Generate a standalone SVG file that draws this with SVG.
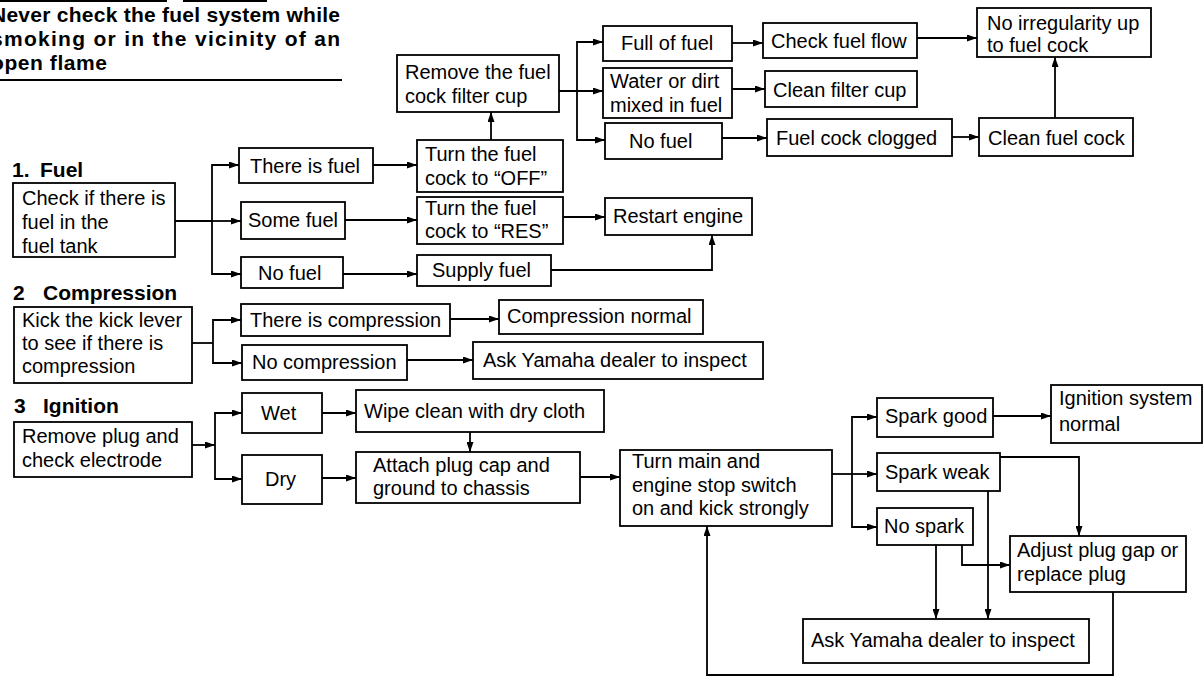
<svg xmlns="http://www.w3.org/2000/svg" width="1204" height="680" viewBox="0 0 1204 680">
<defs>
<marker id="ah" markerUnits="userSpaceOnUse" markerWidth="10" markerHeight="7" refX="10" refY="3.5" orient="auto">
<path d="M0,0 L10,3.5 L0,7 z" fill="#000"/>
</marker>
<style>
.box{fill:#fff;stroke:#000;stroke-width:1.8}
.t{font-family:"Liberation Sans",Arial,Helvetica,sans-serif;font-size:20px;fill:#000}
.h{font-family:"Liberation Sans",Arial,Helvetica,sans-serif;font-size:21px;font-weight:bold;fill:#000}
.w{font-family:"Liberation Sans",Arial,Helvetica,sans-serif;font-size:21px;font-weight:bold;fill:#000}
.c{fill:none;stroke:#000;stroke-width:1.8}
.a{fill:none;stroke:#000;stroke-width:1.8;marker-end:url(#ah)}
.r{stroke:#000;stroke-width:2}
</style>
</defs>
<rect width="1204" height="680" fill="#fff"/>

<g id="warning">
<line class="r" x1="0" y1="1" x2="167" y2="1"/>
<line class="r" x1="183" y1="1" x2="267" y2="1"/>
<text class="w" x="-9" y="22" textLength="349" lengthAdjust="spacing">Never check the fuel system while</text>
<text class="w" x="-9" y="46" textLength="349" lengthAdjust="spacing">smoking or in the vicinity of an</text>
<text class="w" x="-9" y="70" textLength="116" lengthAdjust="spacing">open flame</text>
<line class="r" x1="0" y1="80" x2="342" y2="80"/>
</g>

<g id="headings">
<text class="h" x="12" y="177">1.</text><text class="h" x="40" y="177">Fuel</text>
<text class="h" x="13" y="300">2</text><text class="h" x="43" y="300">Compression</text>
<text class="h" x="14" y="413">3</text><text class="h" x="43" y="413">Ignition</text>
</g>

<g id="connectors">
<path class="c" d="M175,221 H212"/>
<path class="a" d="M212,221 H241"/>
<path class="a" d="M212,221 V165 H239"/>
<path class="a" d="M212,221 V274 H241"/>
<path class="a" d="M373,165 H417"/>
<path class="a" d="M345,220 H417"/>
<path class="a" d="M343,274 H417"/>
<path class="a" d="M491,140 V112"/>
<path class="a" d="M559,91 H603"/>
<path class="a" d="M577,91 V42 H603"/>
<path class="a" d="M577,91 V140 H605"/>
<path class="a" d="M732,43 H763"/>
<path class="a" d="M732,89 H765"/>
<path class="a" d="M722,138 H767"/>
<path class="a" d="M917,38 H977"/>
<path class="a" d="M952,137 H979"/>
<path class="a" d="M1055,118 V57"/>
<path class="a" d="M563,217 H605"/>
<path class="a" d="M551,270 H712 V235"/>
<path class="c" d="M192,343 H213"/>
<path class="a" d="M213,343 V320 H241"/>
<path class="a" d="M213,343 V363 H242"/>
<path class="a" d="M450,319 H499"/>
<path class="a" d="M407,360 H473"/>
<path class="a" d="M192,445 H215"/>
<path class="a" d="M215,445 V413 H242"/>
<path class="a" d="M215,445 V479 H242"/>
<path class="a" d="M322,413 H356"/>
<path class="a" d="M470,432 V452"/>
<path class="a" d="M322,478 H356"/>
<path class="a" d="M580,477 H620"/>
<path class="c" d="M832,474 H852"/>
<path class="a" d="M852,474 H877"/>
<path class="a" d="M852,474 V417 H877"/>
<path class="a" d="M852,474 V527 H877"/>
<path class="a" d="M993,416 H1051"/>
<path class="a" d="M1000,457 H1079 V536"/>
<path class="a" d="M962,545 V565 H1010"/>
<path class="a" d="M936,545 V619"/>
<path class="a" d="M988,491 V619"/>
<path class="a" d="M1113,592 V675 H707 V526"/>
</g>

<g id="n-check-fuel"><rect class="box" x="13" y="183" width="162" height="74"/>
<text class="t" x="22" y="205">Check if there is</text><text class="t" x="22" y="229">fuel in the</text><text class="t" x="22" y="253">fuel tank</text></g>
<g id="n-there-is-fuel"><rect class="box" x="239" y="148" width="134" height="35"/><text class="t" x="250" y="173">There is fuel</text></g>
<g id="n-some-fuel"><rect class="box" x="241" y="202" width="104" height="37"/><text class="t" x="248" y="227">Some fuel</text></g>
<g id="n-no-fuel-1"><rect class="box" x="241" y="257" width="102" height="31"/><text class="t" x="258" y="280">No fuel</text></g>
<g id="n-turn-off"><rect class="box" x="417" y="140" width="146" height="52"/>
<text class="t" x="425" y="161">Turn the fuel</text><text class="t" x="425" y="185">cock to “OFF”</text></g>
<g id="n-turn-res"><rect class="box" x="417" y="197" width="146" height="47"/>
<text class="t" x="425" y="215">Turn the fuel</text><text class="t" x="425" y="238">cock to “RES”</text></g>
<g id="n-supply-fuel"><rect class="box" x="417" y="255" width="134" height="31"/><text class="t" x="432" y="277">Supply fuel</text></g>
<g id="n-remove-cup"><rect class="box" x="397" y="55" width="162" height="57"/>
<text class="t" x="405" y="79">Remove the fuel</text><text class="t" x="405" y="103">cock filter cup</text></g>
<g id="n-full-of-fuel"><rect class="box" x="603" y="26" width="129" height="35"/><text class="t" x="621" y="50">Full of fuel</text></g>
<g id="n-water-dirt"><rect class="box" x="603" y="68" width="129" height="50"/>
<text class="t" x="610" y="88">Water or dirt</text><text class="t" x="610" y="112">mixed in fuel</text></g>
<g id="n-no-fuel-2"><rect class="box" x="605" y="123" width="117" height="36"/><text class="t" x="629" y="148">No fuel</text></g>
<g id="n-check-flow"><rect class="box" x="763" y="23" width="154" height="35"/><text class="t" x="771" y="48">Check fuel flow</text></g>
<g id="n-clean-cup"><rect class="box" x="765" y="71" width="152" height="36"/><text class="t" x="773" y="97">Clean filter cup</text></g>
<g id="n-clogged"><rect class="box" x="767" y="119" width="185" height="37"/><text class="t" x="776" y="145">Fuel cock clogged</text></g>
<g id="n-clean-cock"><rect class="box" x="979" y="118" width="154" height="38"/><text class="t" x="988" y="145">Clean fuel cock</text></g>
<g id="n-no-irregularity"><rect class="box" x="977" y="8" width="174" height="49"/>
<text class="t" x="987" y="30">No irregularity up</text><text class="t" x="987" y="52">to fuel cock</text></g>
<g id="n-restart"><rect class="box" x="605" y="198" width="147" height="37"/><text class="t" x="613" y="223">Restart engine</text></g>

<g id="n-kick"><rect class="box" x="14" y="307" width="178" height="76"/>
<text class="t" x="22" y="327">Kick the kick lever</text><text class="t" x="22" y="350">to see if there is</text><text class="t" x="22" y="373">compression</text></g>
<g id="n-there-is-comp"><rect class="box" x="241" y="304" width="209" height="32"/><text class="t" x="250" y="327">There is compression</text></g>
<g id="n-no-comp"><rect class="box" x="242" y="345" width="165" height="35"/><text class="t" x="252" y="369">No compression</text></g>
<g id="n-comp-normal"><rect class="box" x="499" y="300" width="204" height="34"/><text class="t" x="507" y="323">Compression normal</text></g>
<g id="n-ask-1"><rect class="box" x="473" y="342" width="290" height="37"/><text class="t" x="483" y="367">Ask Yamaha dealer to inspect</text></g>

<g id="n-remove-plug"><rect class="box" x="14" y="422" width="178" height="55"/>
<text class="t" x="22" y="443">Remove plug and</text><text class="t" x="22" y="467">check electrode</text></g>
<g id="n-wet"><rect class="box" x="242" y="393" width="80" height="40"/><text class="t" x="261" y="420">Wet</text></g>
<g id="n-dry"><rect class="box" x="242" y="455" width="80" height="49"/><text class="t" x="265" y="486">Dry</text></g>
<g id="n-wipe"><rect class="box" x="356" y="390" width="248" height="42"/><text class="t" x="364" y="418">Wipe clean with dry  cloth</text></g>
<g id="n-attach"><rect class="box" x="356" y="452" width="224" height="51"/>
<text class="t" x="373" y="472">Attach plug cap and</text><text class="t" x="373" y="495">ground to chassis</text></g>
<g id="n-turn-main"><rect class="box" x="620" y="450" width="212" height="76"/>
<text class="t" x="632" y="468">Turn main and</text><text class="t" x="632" y="492">engine stop switch</text><text class="t" x="632" y="515">on and kick strongly</text></g>
<g id="n-spark-good"><rect class="box" x="877" y="398" width="116" height="39"/><text class="t" x="885" y="423">Spark good</text></g>
<g id="n-spark-weak"><rect class="box" x="877" y="453" width="123" height="38"/><text class="t" x="885" y="479">Spark weak</text></g>
<g id="n-no-spark"><rect class="box" x="877" y="508" width="96" height="37"/><text class="t" x="884" y="533">No spark</text></g>
<g id="n-ign-normal"><rect class="box" x="1051" y="385" width="151" height="58"/>
<text class="t" x="1059" y="405">Ignition system</text><text class="t" x="1059" y="431">normal</text></g>
<g id="n-adjust"><rect class="box" x="1010" y="536" width="176" height="56"/>
<text class="t" x="1017" y="557">Adjust plug gap or</text><text class="t" x="1017" y="581">replace plug</text></g>
<g id="n-ask-2"><rect class="box" x="803" y="619" width="286" height="44"/><text class="t" x="811" y="647">Ask Yamaha dealer to inspect</text></g>
</svg>
